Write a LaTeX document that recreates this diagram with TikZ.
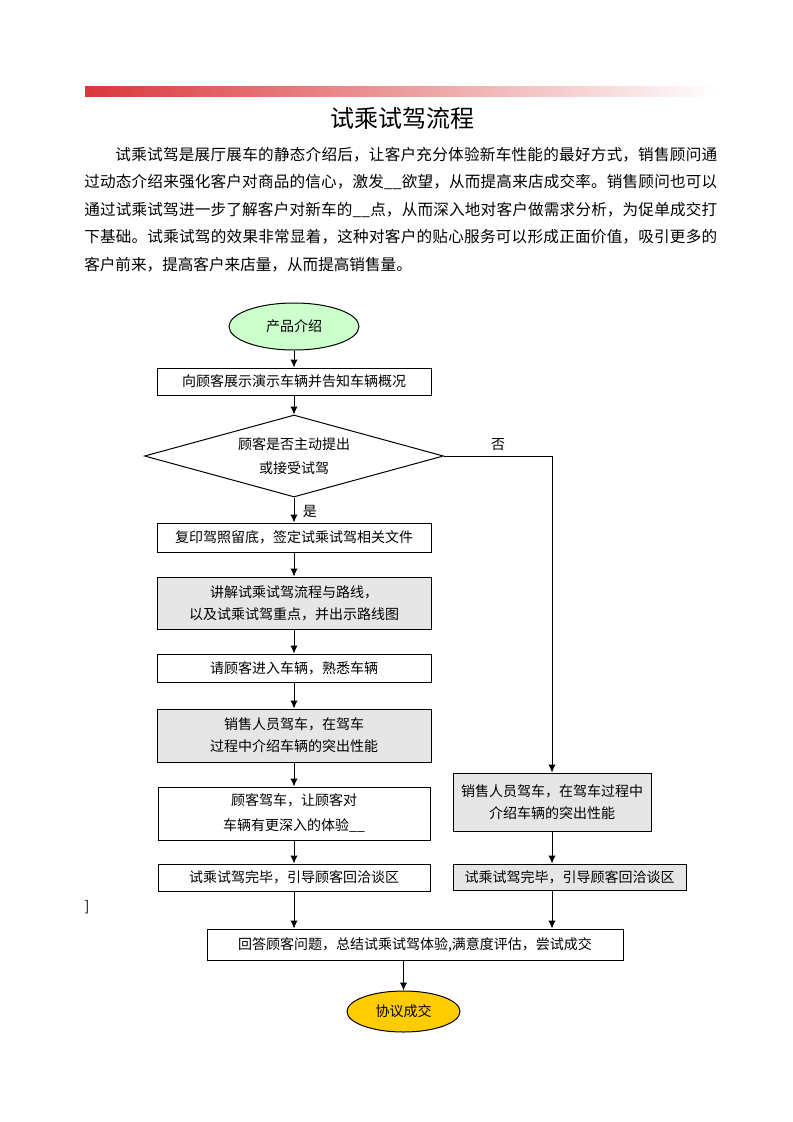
\documentclass[tikz,border=0pt]{standalone}
\usepackage{fontspec}
\setmainfont{Noto Sans CJK SC}
\usetikzlibrary{shapes.geometric,arrows.meta,positioning}
\XeTeXlinebreaklocale "zh"
\XeTeXlinebreakskip=0pt plus 2pt minus 0.5pt
\definecolor{barcol}{HTML}{D9383C}
\definecolor{startcol}{HTML}{CCFFCC}
\definecolor{endcol}{HTML}{FFCC00}
\definecolor{greycol}{HTML}{E6E6E6}
\tikzstyle{flow} = [-{Latex[length=6pt,width=5.5pt]}, line width=0.75pt]
\newcommand{\flowfont}{\fontsize{10.5pt}{16.5pt}\selectfont}
\tikzset{
  basic box/.style = {
    shape = rectangle,
    draw,
    line width = 0.75pt,
    inner sep = 0pt,
    align = center,
    },
  white box/.style = {basic box, fill = white},
  grey box/.style = {basic box, fill = greycol},
  term/.style = {
    shape = ellipse,
    draw,
    line width = 0.75pt,
    inner sep = 0pt,
    fill = #1},
  decision/.style = {
    shape = diamond,
    aspect = 3.6,
    draw,
    line width = 0.75pt,
    inner sep = 0pt,
    align = center,
    font = \fontsize{10.5pt}{17.5pt}\selectfont},
  boxsize/.style 2 args = {minimum width = #1*0.75pt, minimum height = #2*0.75pt}
}

\begin{document}
\begin{tikzpicture}[x=0.75pt,y=-0.75pt,font=\flowfont]
    \fill[white] (0,0) rectangle (793,1122);
    \useasboundingbox (0,0) rectangle (793,1122);

    %header
    \shade[left color=barcol, right color=white] (85,86) rectangle (718,96);
    \node[font=\fontsize{18pt}{18pt}\selectfont] (title) at (402,118) {试乘试驾流程};
    \node[anchor=north west, text width=474.75pt, align=justify, inner sep=0pt,
    font=\fontsize{11.7pt}{20.6pt}\selectfont] (intro) at (84,147)
    {\hspace*{2em}试乘试驾是展厅展车的静态介绍后，让客户充分体验新车性能的最好方式，销售顾问通\linebreak
    过动态介绍来强化客户对商品的信心，激发\_\_欲望，从而提高来店成交率。销售顾问也可以\linebreak
    通过试乘试驾进一步了解客户对新车的\_\_点，从而深入地对客户做需求分析，为促单成交打\linebreak
    下基础。试乘试驾的效果非常显着，这种对客户的贴心服务可以形成正面价值，吸引更多的\linebreak
    客户前来，提高客户来店量，从而提高销售量。};

    %left column
    \node[term=startcol, boxsize={130}{47}] (start) at (294,326.5) {产品介绍};
    \node[white box, boxsize={274}{27}] (show) at (294,381.5) {向顾客展示演示车辆并告知车辆概况};
    \node[decision, boxsize={299}{82}] (ask) at (294,456) {顾客是否主动提出\\或接受试驾};
    \node[white box, boxsize={274}{29}] (licence) at (294,537.5) {复印驾照留底，签定试乘试驾相关文件};
    \node[grey box, boxsize={274}{52}] (explain) at (294,603)
    {讲解试乘试驾流程与路线，\\以及试乘试驾重点，并出示路线图};
    \node[white box, boxsize={274}{28}] (enter) at (294,668) {请顾客进入车辆，熟悉车辆};
    \node[grey box, boxsize={274}{53}] (salesdrive) at (294,735.5)
    {销售人员驾车，在驾车\\过程中介绍车辆的突出性能};
    \node[white box, boxsize={272}{53}, font=\fontsize{10.5pt}{18.75pt}\selectfont] (custdrive) at (294,813.5)
    {顾客驾车，让顾客对\\车辆有更深入的体验\_\_};
    \node[white box, boxsize={272}{27}] (back) at (294,877.5) {试乘试驾完毕，引导顾客回洽谈区};

    %right column
    \node[grey box, boxsize={198}{58}] (sdrive) at (552,802)
    {销售人员驾车，在驾车过程中\\介绍车辆的突出性能};
    \node[grey box, boxsize={233}{26}] (sback) at (569.5,877) {试乘试驾完毕，引导顾客回洽谈区};

    %end
    \node[white box, boxsize={416}{31}] (answer) at (415,944.5)
    {回答顾客问题，总结试乘试驾体验,满意度评估，尝试成交};
    \node[term=endcol, boxsize={113}{41}] (deal) at (403.5,1011.5) {协议成交};

    \node (stray) at (87,907) {]};

    % Paths
    \draw[flow] (start.south) -- (show.north);
    \draw[flow] (show.south) -- (ask.north);
    \draw[flow] (ask.south) -- node[right, pos=0.55, xshift=3pt] {是} (licence.north);
    \draw[flow] (ask.east) -| node[pos=0.25, above] {否} (sdrive.north);
    \draw[flow] (licence.south) -- (explain.north);
    \draw[flow] (explain.south) -- (enter.north);
    \draw[flow] (enter.south) -- (salesdrive.north);
    \draw[flow] (salesdrive.south) -- (custdrive.north);
    \draw[flow] (custdrive.south) -- (back.north);
    \draw[flow] (back.south) -- (back.south |- answer.north);
    \draw[flow] (sdrive.south) -- (sdrive.south |- sback.north);
    \draw[flow] (sdrive.south |- sback.south) -- (sdrive.south |- answer.north);
    \draw[flow] (deal.north |- answer.south) -- (deal.north);
\end{tikzpicture}
\end{document}
